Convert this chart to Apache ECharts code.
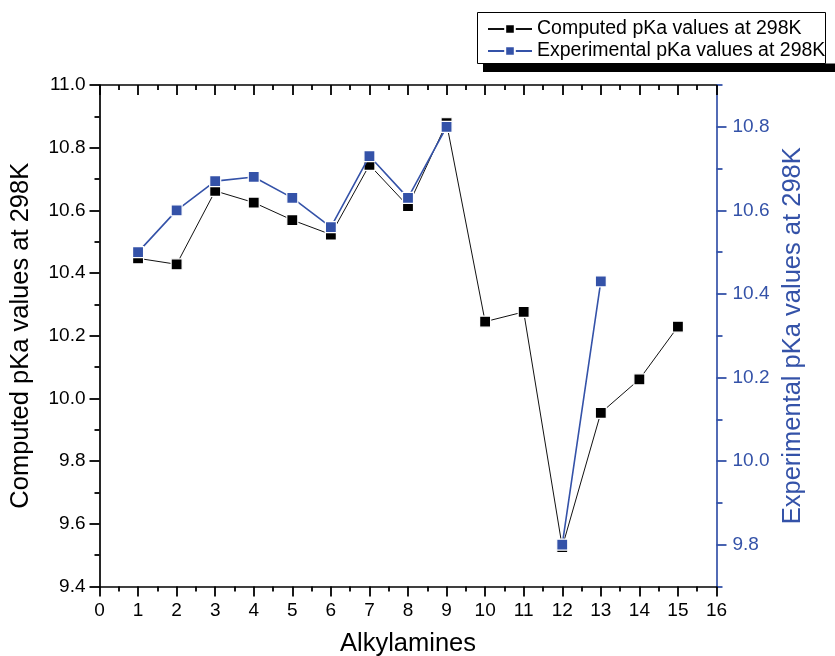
<!DOCTYPE html>
<html>
<head>
<meta charset="utf-8">
<script src="https://cdn.jsdelivr.net/npm/echarts@6/dist/echarts.min.js"></script>
<style>
  html, body { margin: 0; padding: 0; background: #fff; }
  #chart { width: 835px; height: 656px; }
</style>
</head>
<body>
<div id="chart"></div>
<script>
// Alkylamine index on the x axis
const alkylamineIds = [1, 2, 3, 4, 5, 6, 7, 8, 9, 10, 11, 12, 13, 14, 15];
// Computed pKa values at 298 K (left axis)
const computedPka = [10.447, 10.428, 10.662, 10.625, 10.569, 10.523, 10.745, 10.614, 10.878, 10.245, 10.276, 9.526, 9.954, 10.061, 10.229];
// Experimental pKa values at 298 K (right axis); null where no measurement exists
const experimentalPka = [10.50, 10.60, 10.67, 10.68, 10.63, 10.56, 10.73, 10.63, 10.80, null, null, 9.80, 10.43, null, null];

// Right-axis labels and tick positions
const rightMajorTicks = [9.8, 10.0, 10.2, 10.4, 10.6, 10.8];
const rightMinorTicks = [9.7, 9.9, 10.1, 10.3, 10.5, 10.7, 10.9];

const FONT = "'Liberation Sans', Arial, Helvetica, sans-serif";
const BLUE = '#3452a8';

const computedData = alkylamineIds.map((x, i) => [x, computedPka[i]]);
const experimentalData = alkylamineIds.map((x, i) => [x, experimentalPka[i] === null ? '-' : experimentalPka[i]]);

const chart = echarts.init(document.getElementById('chart'), null, { renderer: 'canvas' });

const tickLine = color => ({ color: color, width: 1.8 });
const plotRect = { left: 99.5, right: 118.5, top: 85, bottom: 69.5, containLabel: false, outerBoundsMode: 'none' };

// tick-only axis: no line, no labels
function tickAxis(extra) {
  return Object.assign({
    type: 'value',
    axisLine: { show: false, onZero: false },
    axisLabel: { show: false },
    splitLine: { show: false }
  }, extra);
}

chart.setOption({
  animation: false,
  backgroundColor: '#fff',
  textStyle: { fontFamily: FONT },
  // grid 0 holds the data; grids 1-3 share its rectangle and carry the tick marks
  grid: [
    Object.assign({}, plotRect),
    Object.assign({}, plotRect),
    Object.assign({}, plotRect),
    Object.assign({}, plotRect)
  ],
  graphic: [
    // legend frame with its heavy drop edge underneath
    { type: 'rect', z: 0, shape: { x: 483, y: 63.5, width: 360, height: 8.5 }, style: { fill: '#000' } },
    { type: 'rect', z: 1, shape: { x: 477.5, y: 12.5, width: 348, height: 51 }, style: { fill: '#fff', stroke: '#000', lineWidth: 1 } }
  ],
  legend: {
    orient: 'vertical',
    left: 477,
    top: 14,
    padding: [5, 0, 5, 10],
    itemWidth: 44,
    itemHeight: 12,
    itemGap: 2,
    z: 10,
    textStyle: { fontFamily: FONT, fontSize: 19.5, color: '#000', lineHeight: 20 },
    data: ['Computed pKa values at 298K', 'Experimental pKa values at 298K']
  },
  xAxis: [
    {
      gridIndex: 0,
      type: 'value',
      position: 'bottom',
      min: 0, max: 16, interval: 1,
      name: 'Alkylamines',
      nameLocation: 'middle',
      nameGap: 44,
      nameTextStyle: { fontFamily: FONT, fontSize: 25.5, color: '#000', verticalAlign: 'top' },
      axisLine: { show: true, onZero: false, lineStyle: { color: '#000', width: 1.7 } },
      axisTick: { show: false },
      axisLabel: { show: true, fontFamily: FONT, fontSize: 19, color: '#000', margin: 15 },
      splitLine: { show: false }
    },
    {
      gridIndex: 0,
      type: 'value',
      position: 'top',
      min: 0, max: 16, interval: 1,
      axisLine: { show: true, onZero: false, lineStyle: { color: '#000', width: 1.7 } },
      axisTick: { show: false },
      axisLabel: { show: false },
      splitLine: { show: false }
    },
    // bottom ticks, pointing down
    tickAxis({
      gridIndex: 1, position: 'bottom', min: 0, max: 16, interval: 1,
      axisTick: { show: true, length: 10, lineStyle: tickLine('#000') },
      minorTick: { show: true, splitNumber: 2, length: 5, lineStyle: tickLine('#000') }
    }),
    // top ticks, pointing into the plot
    tickAxis({
      gridIndex: 2, position: 'top', min: 0, max: 16, interval: 1,
      axisTick: { show: true, inside: true, length: 10, lineStyle: tickLine('#000') },
      minorTick: { show: true, splitNumber: 2, length: 5, lineStyle: tickLine('#000') }
    }),
    // placeholder x axis for grid 3
    tickAxis({ gridIndex: 3, position: 'bottom', min: 0, max: 16, show: false })
  ],
  yAxis: [
    {
      gridIndex: 0,
      type: 'value',
      position: 'left',
      min: 9.4, max: 11.0, interval: 0.2,
      name: 'Computed pKa values at 298K',
      nameLocation: 'middle',
      nameGap: 66,
      nameRotate: 90,
      nameTextStyle: { fontFamily: FONT, fontSize: 25.5, color: '#000' },
      axisLine: { show: true, onZero: false, lineStyle: { color: '#000', width: 1.7 } },
      axisTick: { show: false },
      axisLabel: { show: true, fontFamily: FONT, fontSize: 19, color: '#000', margin: 14, formatter: v => v.toFixed(1) },
      splitLine: { show: false }
    },
    {
      gridIndex: 0,
      type: 'value',
      position: 'right',
      min: 9.7, max: 10.9,
      name: 'Experimental pKa values at 298K',
      nameLocation: 'middle',
      nameGap: 60,
      nameRotate: 90,
      nameTextStyle: { fontFamily: FONT, fontSize: 25.5, color: BLUE },
      axisLine: { show: true, onZero: false, lineStyle: { color: BLUE, width: 1.7 } },
      axisTick: { show: false },
      axisLabel: { show: true, fontFamily: FONT, fontSize: 19, color: BLUE, margin: 16, customValues: rightMajorTicks, formatter: v => v.toFixed(1) },
      splitLine: { show: false }
    },
    // left ticks, pointing outwards
    tickAxis({
      gridIndex: 1, position: 'left', min: 9.4, max: 11.0, interval: 0.2,
      axisTick: { show: true, length: 10, lineStyle: tickLine('#000') },
      minorTick: { show: true, splitNumber: 2, length: 5, lineStyle: tickLine('#000') }
    }),
    // right major ticks
    tickAxis({
      gridIndex: 2, position: 'right', min: 9.7, max: 10.9,
      axisTick: { show: true, length: 10, customValues: rightMajorTicks, lineStyle: tickLine(BLUE) }
    }),
    // right intermediate ticks
    tickAxis({
      gridIndex: 3, position: 'right', min: 9.7, max: 10.9,
      axisTick: { show: true, length: 6, customValues: rightMinorTicks, lineStyle: tickLine(BLUE) }
    })
  ],
  series: [
    {
      name: 'Computed pKa values at 298K',
      type: 'line',
      xAxisIndex: 0,
      yAxisIndex: 0,
      data: computedData,
      symbol: 'rect',
      symbolSize: 11,
      z: 3,
      lineStyle: { color: '#111', width: 1 },
      itemStyle: { color: '#000', borderColor: '#fff', borderWidth: 1.2 },
      emphasis: { disabled: true }
    },
    {
      name: 'Experimental pKa values at 298K',
      type: 'line',
      xAxisIndex: 0,
      yAxisIndex: 1,
      data: experimentalData,
      connectNulls: false,
      symbol: 'rect',
      symbolSize: 11,
      z: 4,
      lineStyle: { color: BLUE, width: 1.6 },
      itemStyle: { color: BLUE, borderColor: '#fff', borderWidth: 1.2 },
      emphasis: { disabled: true }
    }
  ]
});
</script>
</body>
</html>
